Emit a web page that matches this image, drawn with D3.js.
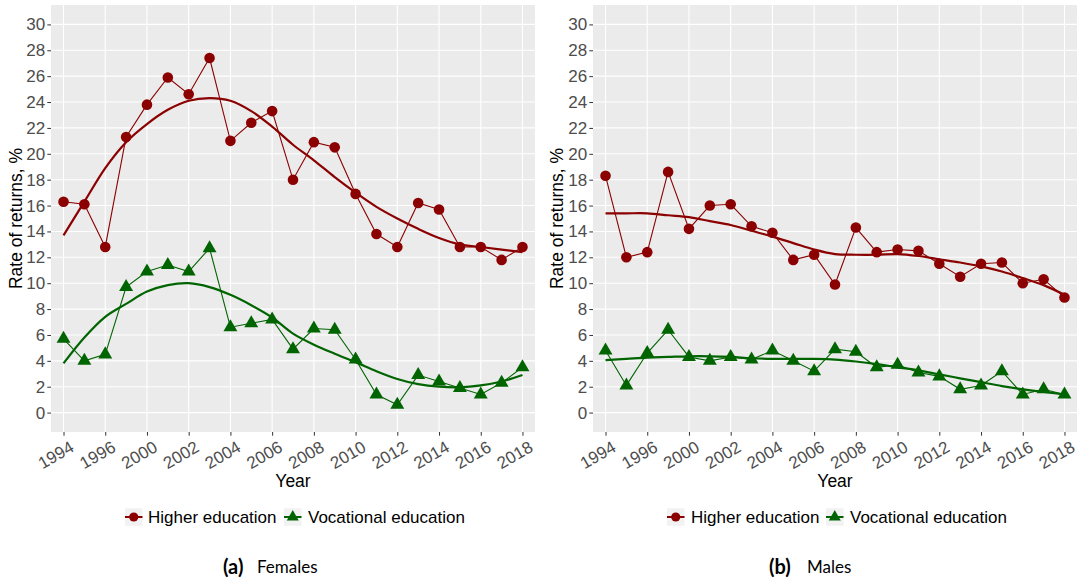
<!DOCTYPE html>
<html><head><meta charset="utf-8">
<script src="https://cdn.jsdelivr.net/npm/d3@7"></script>
<style>body{margin:0;background:#fff}svg{display:block}</style>
</head><body>
<svg id="c" width="1082" height="584"></svg>
<script>
const years = ["1994","1995","1996","1998","2000","2001","2002","2003","2004","2005","2006","2007","2008","2009","2010","2011","2012","2013","2014","2015","2016","2017","2018"];
const yTicks = [0,2,4,6,8,10,12,14,16,18,20,22,24,26,28,30];
const seriesNames = ["Higher education","Vocational education"];
// Females
const femHigher = [16.3,16.1,12.8,21.3,23.8,25.9,24.6,27.4,21.0,22.4,23.3,18.0,20.9,20.5,16.9,13.8,12.8,16.2,15.7,12.8,12.8,11.8,12.8];
const femHigherSmooth = [13.7,16.3,18.9,20.9,22.3,23.4,24.1,24.3,24.1,23.3,22.1,20.7,19.5,18.2,17.0,15.9,15.0,14.2,13.5,13.0,12.8,12.6,12.4];
const femVoc = [5.7,4.0,4.5,9.7,10.9,11.4,10.9,12.7,6.6,6.9,7.2,4.9,6.5,6.4,4.1,1.4,0.6,2.9,2.4,1.9,1.4,2.3,3.5];
const femVocSmooth = [3.8,5.8,7.4,8.4,9.35,9.85,10.0,9.7,9.1,8.3,7.35,6.1,5.25,4.55,3.9,3.2,2.6,2.2,2.0,1.95,2.1,2.4,2.9];
// Males
const maleHigher = [18.3,12.0,12.4,18.6,14.2,16.0,16.1,14.4,13.9,11.8,12.2,9.9,14.3,12.4,12.6,12.5,11.5,10.5,11.5,11.6,10.0,10.3,8.9];
const maleHigherSmooth = [15.4,15.4,15.4,15.25,15.1,14.8,14.5,14.05,13.6,13.1,12.6,12.25,12.2,12.2,12.25,12.1,11.85,11.6,11.3,10.9,10.4,9.85,9.1];
const maleVoc = [4.8,2.1,4.6,6.4,4.3,4.0,4.3,4.1,4.8,4.0,3.2,4.9,4.7,3.5,3.7,3.1,2.8,1.8,2.1,3.2,1.4,1.8,1.4];
const maleVocSmooth = [4.05,4.15,4.25,4.3,4.35,4.35,4.3,4.2,4.15,4.15,4.15,4.1,3.95,3.75,3.5,3.26,2.95,2.65,2.35,2.05,1.8,1.6,1.4];

const colors = ["#8B0000","#006400"];
const FONT = "'Liberation Sans', Arial, Helvetica, sans-serif";
const svg = d3.select("#c");

const panels = [
  {left:51, right:535, yTitleX:22, legend:{k1:125,t1:148,k2:284,t2:308}, cap:{a:"(a)", ax:223, name:"Females", nx:257},
   hi:femHigher, hiS:femHigherSmooth, vo:femVoc, voS:femVocSmooth},
  {left:593, right:1077, yTitleX:563, legend:{k1:667,t1:691,k2:826,t2:850}, cap:{a:"(b)", ax:769, name:"Males", nx:807},
   hi:maleHigher, hiS:maleHigherSmooth, vo:maleVoc, voS:maleVocSmooth}
];
const pTop = 5, pBottom = 432;
const tri = d3.symbol(d3.symbolTriangle, 84);

panels.forEach(p => {
  const g = svg.append("g");
  const x = d3.scalePoint().domain(years).range([p.left, p.right]).padding(0.6);
  const y = d3.scaleLinear().domain([-1.5, 31.5]).range([pBottom, pTop]);
  const xt = years.filter((d,i)=>i%2===0);
  g.append("rect").attr("x",p.left).attr("y",pTop).attr("width",p.right-p.left).attr("height",pBottom-pTop).attr("fill","#EBEBEB");
  // grid
  g.selectAll(".gy").data(yTicks).join("line").attr("x1",p.left).attr("x2",p.right)
    .attr("y1",d=>y(d)).attr("y2",d=>y(d)).attr("stroke","#fff").attr("stroke-width",1.1);
  g.selectAll(".gx").data(xt).join("line").attr("y1",pTop).attr("y2",pBottom)
    .attr("x1",d=>x(d)).attr("x2",d=>x(d)).attr("stroke","#fff").attr("stroke-width",1.1);
  // axes
  const ay = g.append("g").attr("transform",`translate(${p.left},0)`).call(d3.axisLeft(y).tickValues(yTicks).tickSize(3.7).tickPadding(2.2));
  ay.select(".domain").remove();
  ay.selectAll("line").attr("stroke","#333");
  ay.selectAll("text").style("font-family",FONT).style("font-size","17px").attr("fill","#4D4D4D");
  const ax = g.append("g").attr("transform",`translate(0,${pBottom})`).call(d3.axisBottom(x).tickValues(xt).tickSize(3.7));
  ax.select(".domain").remove();
  ax.selectAll("line").attr("stroke","#333");
  ax.selectAll("text").style("font-family",FONT).style("font-size","17px").attr("fill","#4D4D4D")
    .attr("text-anchor","end").attr("y",0).attr("dy","0.72em")
    .attr("transform","translate(5,8) rotate(-30)");
  // titles
  g.append("text").attr("x",(p.left+p.right)/2).attr("y",487).attr("text-anchor","middle")
    .style("font-family",FONT).style("font-size","17.5px").attr("fill","#000").text("Year");
  g.append("text").attr("transform",`translate(${p.yTitleX},${(pTop+pBottom)/2}) rotate(-90)`).attr("text-anchor","middle")
    .style("font-family",FONT).style("font-size","17.5px").attr("fill","#000").text("Rate of returns, %");
  // lines
  const line = d3.line().x((d,i)=>x(years[i])).y(d=>y(d));
  const smooth = d3.line().x((d,i)=>x(years[i])).y(d=>y(d)).curve(d3.curveCatmullRom);
  [[p.hiS,0],[p.voS,1]].forEach(([s,c]) => g.append("path").attr("d",smooth(s)).attr("fill","none").attr("stroke",colors[c]).attr("stroke-width",2.2));
  [[p.hi,0],[p.vo,1]].forEach(([s,c]) => g.append("path").attr("d",line(s)).attr("fill","none").attr("stroke",colors[c]).attr("stroke-width",1.1));
  g.selectAll(".pc").data(p.hi).join("circle").attr("cx",(d,i)=>x(years[i])).attr("cy",d=>y(d)).attr("r",5.3).attr("fill",colors[0]);
  g.selectAll(".pt").data(p.vo).join("path").attr("d",tri).attr("transform",(d,i)=>`translate(${x(years[i])},${y(d)})`).attr("fill",colors[1]);
  // legend
  const ly = 517, ks = 17.5;
  const L = p.legend;
  [[L.k1,L.t1,0],[L.k2,L.t2,1]].forEach(([kx,tx,c]) => {
    g.append("rect").attr("x",kx).attr("y",ly-ks/2).attr("width",ks).attr("height",ks).attr("fill","#F2F2F2");
    g.append("line").attr("x1",kx).attr("x2",kx+ks).attr("y1",ly).attr("y2",ly).attr("stroke",colors[c]).attr("stroke-width",2);
    if (c===0) g.append("circle").attr("cx",kx+ks/2).attr("cy",ly).attr("r",4.6).attr("fill",colors[0]);
    else g.append("path").attr("d",d3.symbol(d3.symbolTriangle,62)()).attr("transform",`translate(${kx+ks/2},${ly})`).attr("fill",colors[1]);
    g.append("text").attr("x",tx).attr("y",ly+6).style("font-family",FONT).style("font-size","17px")
      .attr("fill","#000").text(seriesNames[c]);
  });
  // caption
  g.append("text").attr("x",p.cap.ax).attr("y",574).style("font-family","Lato, sans-serif").style("font-size","20px").style("font-weight","700").attr("fill","#000").text(p.cap.a);
  g.append("text").attr("x",p.cap.nx).attr("y",573).style("font-family","Lato, sans-serif").style("font-size","17px").attr("fill","#000").text(p.cap.name);
});
</script>
</body></html>
